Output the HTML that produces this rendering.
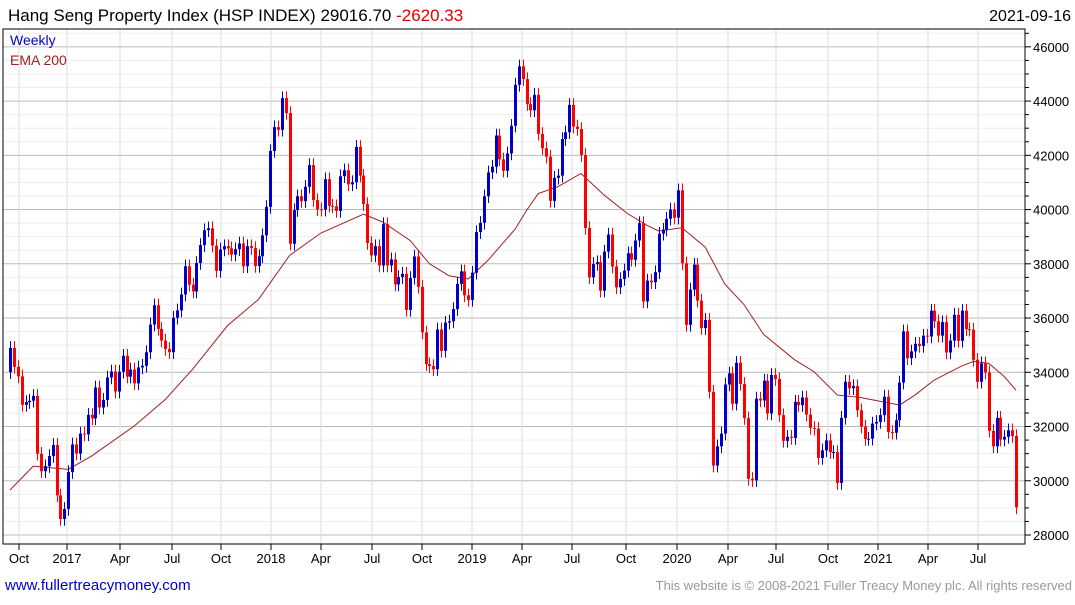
<!DOCTYPE html>
<html><head><meta charset="utf-8"><style>
body{margin:0;background:#fff;font-family:"Liberation Sans",sans-serif}
svg text{font-family:"Liberation Sans",sans-serif}
</style></head><body>
<svg id="c" width="1075" height="600" viewBox="0 0 1075 600" xmlns="http://www.w3.org/2000/svg">
<rect x="0" y="0" width="1075" height="600" fill="#fff"/>
<g id="grid"></g>
<g id="ema"></g>
<g id="candles"></g>
<g id="axes"></g>
<text x="8" y="21" font-size="17" fill="#000">Hang Seng Property Index (HSP INDEX) 29016.70 <tspan fill="#e00000">-2620.33</tspan></text>
<text x="1071" y="21" font-size="16" text-anchor="end" fill="#000">2021-09-16</text>
<text x="10" y="45" font-size="14" fill="#0000cc">Weekly</text>
<text x="10" y="65" font-size="14" fill="#a02020">EMA 200</text>
<text x="5" y="590" font-size="15" fill="#0000cc">www.fullertreacymoney.com</text>
<text x="1072" y="590" font-size="13" fill="#999" text-anchor="end">This website is © 2008-2021 Fuller Treacy Money plc. All rights reserved</text>
</svg>
<script>
const closes=[34900,34200,33850,32800,32900,32950,33130,
30995,30350,30540,30910,31320,29460,28590,28960,30320,31340,31000,31740,31710,32430,32300,33440,32700,32980,33810,34030,33290,34020,34610,33840,34100,33590,34180,34240,34740,35760,36470,35600,35170,34860,34740,36010,36280,36870,37910,37230,36980,38030,38690,39240,39310,38670,37740,38530,38650,38570,38340,38540,38750,37910,38650,38580,37920,38280,
39050,40100,42160,43040,42940,44110,43560,38740,39980,40490,40310,40840,41640,40350,40010,40000,41120,40140,40120,39950,41230,41450,40930,41010,42310,41250,40200,38770,38310,38650,37940,39460,37940,38160,37240,37510,37630,36300,37480,38270,37150,35470,34300,34230,34110,35580,34790,35830,35880,36330,37260,37720,36840,36670,37670,39170,39510,40490,41370,41580,42730,41850,41430,42070,43090,
44600,45280,44810,43890,43660,44230,42790,42260,41950,40320,41170,41250,42600,42850,43860,43060,42970,42010,39320,37500,37990,38060,37010,38450,39080,37900,37130,37440,37750,38390,38150,38860,39500,36610,37380,37320,37690,39110,39260,39660,40000,39700,40710,38020,35750,37050,37970,36640,35630,35930,33280,30560,31270,31740,33550,33960,32840,34350,33570,32310,30070,30020,33030,32960,
33690,32480,33900,33750,32420,31470,31620,31580,32910,32790,33070,32440,31950,31920,30840,31120,31490,31060,31060,29920,32320,33650,33410,33490,32600,32000,31540,31550,32110,32170,32420,33100,31800,31770,32230,33620,35510,34520,34770,35050,34970,35350,35320,36270,35880,35350,35850,34730,35170,36120,35160,36270,35590,35570,34460,33650,34330,33990,31840,31270,32320,31520,31620,31860,31650,29020];
const firstOpen=34000;
const emaIdx=[0,6,15,21,32,40,47,56,64,72,80,91,96,103,108,113,118,123,130,133,136,141,147,153,159,164,167,173,179,184,189,194,202,207,213,219,229,233,238,245,248,252,256,259];
const emaVals=[29660,30540,30420,30910,32020,33000,34110,35720,36690,38310,39130,39830,39540,38860,38000,37560,37440,38120,39270,39970,40590,40840,41330,40530,39850,39420,39210,39330,38610,37260,36490,35400,34460,34020,33160,33070,32790,33160,33720,34230,34400,34330,33840,33340];
const yTicks=[28000,30000,32000,34000,36000,38000,40000,42000,44000,46000];
const xLabels=["Oct","2017","Apr","Jul","Oct","2018","Apr","Jul","Oct","2019","Apr","Jul","Oct","2020","Apr","Jul","Oct","2021","Apr","Jul"];
const xLabelPos=[19,67,120,172,221,271,321,372,422,472,522,572,626,677,728,776,828,878,928,978];
const NS="http://www.w3.org/2000/svg";
const L=3,R=1025,T=29,B=544;
const y=v=>535-(v-28000)*0.02712;
const x=i=>10+i*(1006/(closes.length-1));
function el(t,a,p){const e=document.createElementNS(NS,t);for(const k in a)e.setAttribute(k,a[k]);p.appendChild(e);return e;}
const grid=document.getElementById('grid'),ax=document.getElementById('axes'),cg=document.getElementById('candles'),eg=document.getElementById('ema');
for(let v=28000;v<=46500;v+=500){const g=el('line',{x1:L,x2:R,y1:y(v),y2:y(v),stroke:v%2000===0?'#bbb':'#eee','stroke-width':1},grid);

}
xLabelPos.forEach((p,i)=>{const g=el('line',{x1:p,x2:p,y1:T,y2:B,stroke:'#ddd'},grid);


const tk=el('line',{x1:p,x2:p,y1:B,y2:B+6,stroke:'#000'},ax);


const t=el('text',{x:p,y:563,'font-size':13,'text-anchor':'middle',fill:'#000'},ax);t.textContent=xLabels[i];

});
const fr=el('rect',{x:L,y:T,width:R-L,height:B-T,fill:'none',stroke:'#000','stroke-width':1},ax);


for(let v=28000;v<=46500;v+=500){const tk=el('line',{x1:R,x2:R+(v%2000===0?6:4),y1:y(v),y2:y(v),stroke:'#000'},ax);

}
yTicks.forEach(v=>{const t=el('text',{x:R+8,y:y(v)+5,'font-size':13,fill:'#000'},ax);t.textContent=v;

});
const ep=el('polyline',{points:emaIdx.map((k,j)=>x(k)+','+y(emaVals[j])).join(' '),fill:'none',stroke:'#a02020','stroke-width':1},eg);


closes.forEach((c,i)=>{const o=i?closes[i-1]:firstOpen;const up=c>=o;const col=up?'#0000cc':'#ff0000';
const hi=Math.max(o,c)+250,lo=Math.min(o,c)-250;const cx=Math.round(x(i))+0.5;
const w=el('line',{x1:cx,x2:cx,y1:y(hi),y2:y(lo),stroke:col,'stroke-width':1},cg);


const b=el('rect',{x:cx-1.5,y:y(Math.max(o,c)),width:3,height:Math.max(1,Math.abs(y(o)-y(c))),fill:col},cg);

});
</script>
</body></html>
